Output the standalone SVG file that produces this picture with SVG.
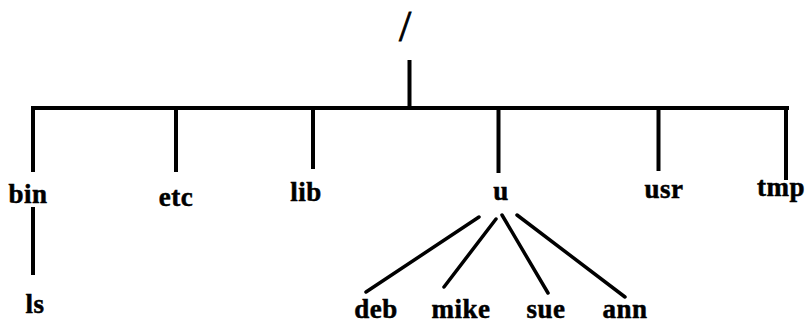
<svg xmlns="http://www.w3.org/2000/svg" width="807" height="323" viewBox="0 0 807 323">
  <style>
    .lbl { font-family: "Liberation Serif", "DejaVu Serif", serif; font-weight: bold; font-size: 27px; letter-spacing: 0.5px; fill: #000; stroke: #000; stroke-width: 0.5; text-anchor: middle; }
    .root { font-family: "Liberation Serif", "DejaVu Serif", serif; font-size: 44px; fill: #000; text-anchor: middle; stroke: #000; stroke-width: 0.8; }
    .edge { stroke: #000; stroke-width: 4; fill: none; stroke-linecap: butt; }
    .diag { stroke: #000; stroke-width: 3.5; fill: none; stroke-linecap: round; }
  </style>
  <rect width="807" height="323" fill="#fff"/>

  <!-- tree edges -->
  <g id="connectors">
    <line class="edge" x1="409.5" y1="60" x2="409.5" y2="108"/>
    <line class="edge" x1="31" y1="108" x2="789" y2="108"/>
    <line class="edge" x1="33" y1="106" x2="33" y2="172"/>
    <line class="edge" x1="176" y1="106" x2="176" y2="172"/>
    <line class="edge" x1="313" y1="106" x2="313" y2="169"/>
    <line class="edge" x1="498.5" y1="106" x2="498.5" y2="173"/>
    <line class="edge" x1="658.5" y1="106" x2="658.5" y2="171"/>
    <line class="edge" x1="786" y1="106" x2="786" y2="180"/>
    <line class="edge" x1="33" y1="207" x2="33" y2="275"/>
    <line class="diag" x1="479" y1="217" x2="366" y2="292"/>
    <line class="diag" x1="496" y1="219" x2="444" y2="287"/>
    <line class="diag" x1="502" y1="215" x2="548" y2="293"/>
    <line class="diag" x1="517" y1="215" x2="625" y2="297"/>
  </g>

  <g id="root"><text class="root" x="405" y="41">/</text></g>
  <g id="bin"><text class="lbl" x="28" y="203">bin</text></g>
  <g id="etc"><text class="lbl" x="176" y="206">etc</text></g>
  <g id="lib"><text class="lbl" x="306" y="201">lib</text></g>
  <g id="u"><text class="lbl" x="501" y="200">u</text></g>
  <g id="usr"><text class="lbl" x="664" y="198">usr</text></g>
  <g id="tmp"><text class="lbl" x="781" y="196">tmp</text></g>
  <g id="ls"><text class="lbl" x="35" y="313">ls</text></g>
  <g id="deb"><text class="lbl" x="376" y="318">deb</text></g>
  <g id="mike"><text class="lbl" x="461" y="318">mike</text></g>
  <g id="sue"><text class="lbl" x="546" y="318">sue</text></g>
  <g id="ann"><text class="lbl" x="625" y="318">ann</text></g>
</svg>
